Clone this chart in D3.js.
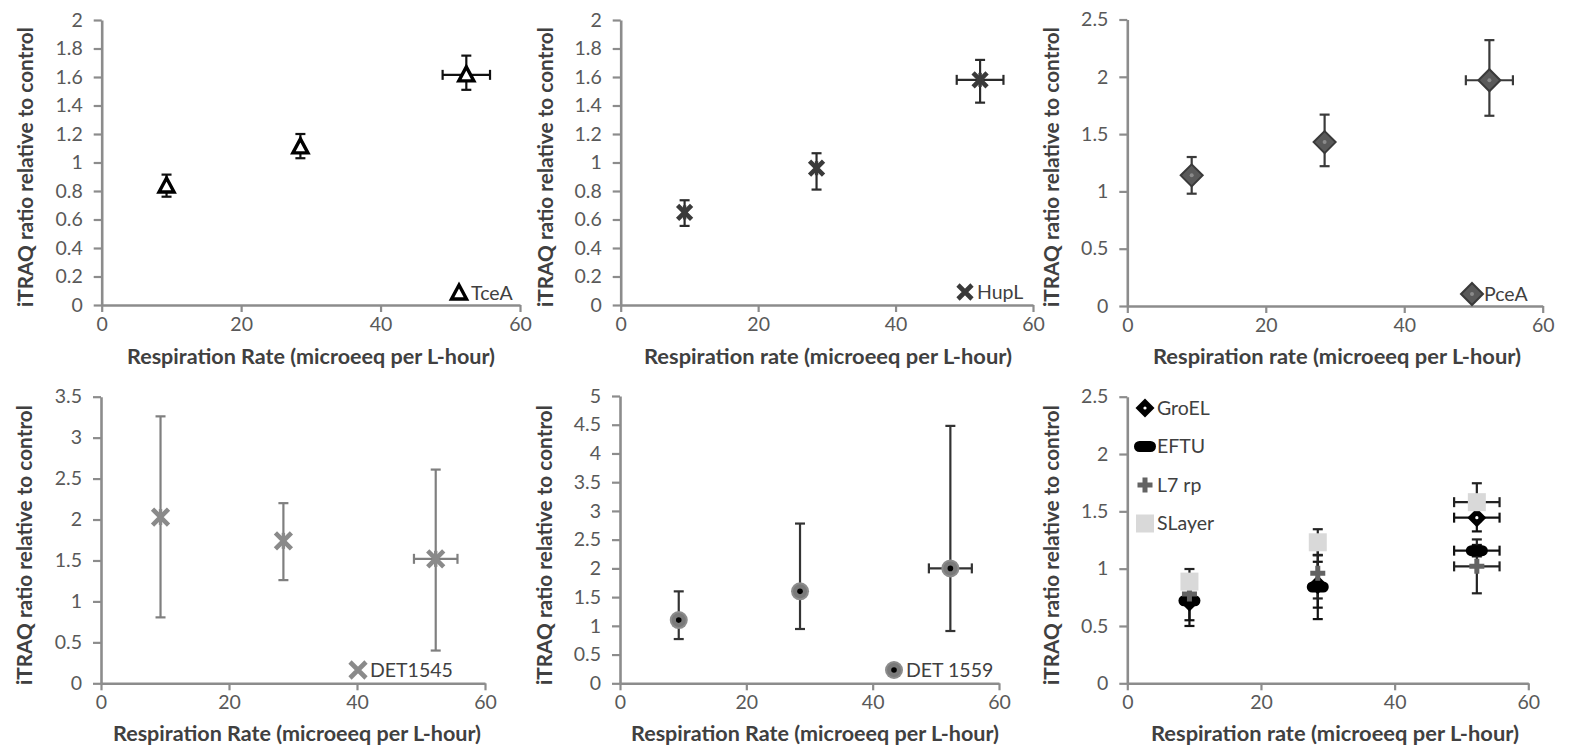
<!DOCTYPE html>
<html>
<head>
<meta charset="utf-8">
<script src="https://cdn.jsdelivr.net/npm/d3@7/dist/d3.min.js"></script>
<style>
  html, body { margin: 0; padding: 0; background: #ffffff; }
  svg { display: block; font-family: Lato, "Open Sans", "Liberation Sans", sans-serif; }
</style>
</head>
<body>
<svg id="chart" width="1570" height="749"></svg>
<script>
// ---------------- DATA ----------------
const respRate = [9.3, 28.5, 52.3];      // respiration rate (microeeq per L-hour)
const respErr  = [0, 0, 3.4];            // x error

const xTicks = [0, 20, 40, 60];
const yTicks2   = [0, 0.2, 0.4, 0.6, 0.8, 1, 1.2, 1.4, 1.6, 1.8, 2];
const yTicks2_5 = [0, 0.5, 1, 1.5, 2, 2.5];
const yTicks3_5 = [0, 0.5, 1, 1.5, 2, 2.5, 3, 3.5];
const yTicks5   = [0, 0.5, 1, 1.5, 2, 2.5, 3, 3.5, 4, 4.5, 5];

const tceA     = [0.835, 1.11, 1.615];
const tceAUp   = [0.08, 0.09, 0.135];
const tceADn   = [0.075, 0.08, 0.105];

const hupL     = [0.65, 0.96, 1.58];
const hupLUp   = [0.085, 0.105, 0.14];
const hupLDn   = [0.095, 0.15, 0.16];

const pceA     = [1.14, 1.43, 1.97];
const pceAUp   = [0.16, 0.24, 0.35];
const pceADn   = [0.16, 0.21, 0.31];

const det1545   = [2.03, 1.74, 1.52];
const det1545Up = [1.23, 0.46, 1.09];
const det1545Dn = [1.225, 0.48, 1.12];

const det1559   = [1.1, 1.6, 2.0];
const det1559Up = [0.5, 1.18, 2.48];
const det1559Dn = [0.33, 0.655, 1.09];

const groEL   = [0.71, 0.86, 1.445];
const groELEr = [0.16, 0.2, 0.12];
const eftu    = [0.72, 0.84, 1.157];
const eftuEr  = [0.22, 0.28, 0.05];
const l7rp    = [0.78, 0.96, 1.02];
const l7rpEr  = [0.05, 0.22, 0.235];
const sLayer  = [0.887, 1.23, 1.58];
const sLayerEr= [0.11, 0.114, 0.165];

const xTitleA = "Respiration Rate (microeeq per L-hour)";
const xTitleB = "Respiration rate (microeeq per L-hour)";
const yTitle  = "iTRAQ ratio relative to control";

// ---------------- MARKERS ----------------
function mk(name) {
  return function (g, legend) {
    switch (name) {
      case "triangle":
        g.append("path").attr("d", "M0,-8L7.5,6L-7.5,6Z")
          .attr("fill", "#fff").attr("stroke", "#000").attr("stroke-width", 3.4).attr("stroke-linejoin", "miter");
        break;
      case "xdark":
      case "xgray": {
        const c = name === "xdark" ? "#3a3a3a" : "#8a8a8a";
        const r = name === "xdark" ? 7 : 8;
        g.append("path").attr("d", `M${-r},${-r}L${r},${r}M${-r},${r}L${r},${-r}`)
          .attr("stroke", c).attr("stroke-width", 4.6).attr("fill", "none");
        if (!legend) g.append("path").attr("d", `M0,${-r}L0,${r}`).attr("stroke", c).attr("stroke-width", 3.4).attr("fill", "none");
        break;
      }
      case "diamond":
        g.append("path").attr("d", "M0,-11L11,0L0,11L-11,0Z")
          .attr("fill", "#5a5a5a").attr("stroke", "#3a3a3a").attr("stroke-width", 2);
        g.append("circle").attr("r", 2).attr("fill", "#8a8a8a");
        break;
      case "circle":
        g.append("circle").attr("r", 9).attr("fill", "#8c8c8c");
        g.append("circle").attr("r", 7).attr("fill", "#7a7a7a");
        g.append("circle").attr("r", 2.8).attr("fill", "#000");
        break;
      case "groel":
        g.append("path").attr("d", "M0,-9.5L9.5,0L0,9.5L-9.5,0Z").attr("fill", "#000");
        g.append("circle").attr("r", 1.6).attr("fill", "#fff");
        break;
      case "eftu":
        g.append("rect").attr("x", -11).attr("y", -5.5).attr("width", 22).attr("height", 11)
          .attr("rx", 5.5).attr("fill", "#000");
        break;
      case "plus":
        g.append("path").attr("d", "M-7.5,0L7.5,0M0,-7.5L0,7.5").attr("stroke", "#636363")
          .attr("stroke-width", 5).attr("fill", "none");
        break;
      case "square":
        g.append("rect").attr("x", -9).attr("y", -9).attr("width", 18).attr("height", 18)
          .attr("fill", "#d9d9d9");
        break;
    }
  };
}

// ---------------- PANELS ----------------
const panels = [
  { x0: 101.7, x1: 520,    yTop: 20,    yBot: 305,   yTicks: yTicks2,   xTitle: xTitleA, xTitleX: 311, xTitleY: 364, yTitleX: 26,  yTitleY: 167,
    series: [{ name: "TceA", y: tceA, up: tceAUp, dn: tceADn, marker: "triangle", ebar: "#111" }],
    legend: { x: 459, y: 293, dy: 0 } },
  { x0: 620.7, x1: 1033,   yTop: 20,    yBot: 305,   yTicks: yTicks2,   xTitle: xTitleB, xTitleX: 828, xTitleY: 364, yTitleX: 546, yTitleY: 167,
    series: [{ name: "HupL", y: hupL, up: hupLUp, dn: hupLDn, marker: "xdark", ebar: "#2b2b2b" }],
    legend: { x: 965, y: 292, dy: 0 } },
  { x0: 1127.3, x1: 1542.7, yTop: 19.5, yBot: 306,   yTicks: yTicks2_5, xTitle: xTitleB, xTitleX: 1337, xTitleY: 364, yTitleX: 1052, yTitleY: 167,
    series: [{ name: "PceA", y: pceA, up: pceAUp, dn: pceADn, marker: "diamond", ebar: "#3a3a3a" }],
    legend: { x: 1472, y: 294, dy: 0 } },
  { x0: 101,   x1: 485,    yTop: 396.7, yBot: 683.3, yTicks: yTicks3_5, xTitle: xTitleA, xTitleX: 297, xTitleY: 741, yTitleX: 25,  yTitleY: 545,
    series: [{ name: "DET1545", y: det1545, up: det1545Up, dn: det1545Dn, marker: "xgray", ebar: "#7f7f7f" }],
    legend: { x: 358, y: 670, dy: 0 } },
  { x0: 620,   x1: 999,    yTop: 396,   yBot: 683.3, yTicks: yTicks5,   xTitle: xTitleA, xTitleX: 815, xTitleY: 741, yTitleX: 545, yTitleY: 545,
    series: [{ name: "DET 1559", y: det1559, up: det1559Up, dn: det1559Dn, marker: "circle", ebar: "#333" }],
    legend: { x: 894, y: 670, dy: 0 } },
  { x0: 1127.3, x1: 1528.3, yTop: 396.7, yBot: 683.3, yTicks: yTicks2_5, xTitle: xTitleB, xTitleX: 1335, xTitleY: 741, yTitleX: 1052, yTitleY: 545,
    series: [
      { name: "GroEL",  y: groEL,  up: groELEr,  dn: groELEr,  marker: "groel",  ebar: "#111" },
      { name: "EFTU",   y: eftu,   up: eftuEr,   dn: eftuEr,   marker: "eftu",   ebar: "#111" },
      { name: "L7 rp",  y: l7rp,   up: l7rpEr,   dn: l7rpEr,   marker: "plus",   ebar: "#222" },
      { name: "SLayer", y: sLayer, up: sLayerEr, dn: sLayerEr, marker: "square", ebar: "#222" }
    ],
    legend: { x: 1145, y: 408, dy: 38.5 } }
];

const svg = d3.select("#chart");
svg.append("rect").attr("width", 1570).attr("height", 749).attr("fill", "#fff");

const axisColor = "#8c8c8c";
const fmt = d => String(+d.toFixed(1));

panels.forEach(p => {
  const x = d3.scaleLinear().domain([0, 60]).range([p.x0, p.x1]);
  const yMax = p.yTicks[p.yTicks.length - 1];
  const y = d3.scaleLinear().domain([0, yMax]).range([p.yBot, p.yTop]);
  const g = svg.append("g");

  // axes
  const ya = g.append("g").attr("transform", `translate(${p.x0},0)`)
    .call(d3.axisLeft(y).tickValues(p.yTicks).tickFormat(fmt).tickSize(8).tickSizeOuter(0).tickPadding(11));
  const xa = g.append("g").attr("transform", `translate(0,${p.yBot})`)
    .call(d3.axisBottom(x).tickValues(xTicks).tickFormat(d3.format("d")).tickSize(7).tickSizeOuter(0).tickPadding(5));
  [ya, xa].forEach(a => {
    a.select(".domain").attr("stroke", axisColor).attr("stroke-width", 2.6);
    a.selectAll(".tick line").attr("stroke", axisColor).attr("stroke-width", 2.2);
    a.selectAll(".tick text").attr("fill", "#595959").attr("font-size", 19.5)
      .attr("font-family", "Lato, 'Open Sans', sans-serif");
  });

  // titles
  g.append("text").attr("x", p.xTitleX).attr("y", p.xTitleY).attr("text-anchor", "middle")
    .attr("font-size", 20).attr("font-weight", "bold").attr("fill", "#404040")
    .attr("textLength", 368).attr("lengthAdjust", "spacingAndGlyphs").text(p.xTitle);
  g.append("text").attr("transform", `translate(${p.yTitleX},${p.yTitleY}) rotate(-90)`)
    .attr("text-anchor", "middle").attr("dy", "0.35em")
    .attr("font-size", 20).attr("font-weight", "bold").attr("fill", "#404040")
    .attr("textLength", 280).attr("lengthAdjust", "spacingAndGlyphs").text(yTitle);

  // error bars
  p.series.forEach(s => {
    const eb = g.append("g").attr("stroke", s.ebar).attr("stroke-width", 2.2).attr("fill", "none");
    respRate.forEach((rx, i) => {
      const cx = x(rx), cy = y(s.y[i]);
      const yt = y(s.y[i] + s.up[i]), yb = y(s.y[i] - s.dn[i]);
      eb.append("line").attr("x1", cx).attr("x2", cx).attr("y1", yt).attr("y2", yb);
      eb.append("line").attr("x1", cx - 5).attr("x2", cx + 5).attr("y1", yt).attr("y2", yt);
      eb.append("line").attr("x1", cx - 5).attr("x2", cx + 5).attr("y1", yb).attr("y2", yb);
      if (respErr[i] > 0) {
        const xl = x(rx - respErr[i]), xr = x(rx + respErr[i]);
        eb.append("line").attr("x1", xl).attr("x2", xr).attr("y1", cy).attr("y2", cy);
        eb.append("line").attr("x1", xl).attr("x2", xl).attr("y1", cy - 5).attr("y2", cy + 5);
        eb.append("line").attr("x1", xr).attr("x2", xr).attr("y1", cy - 5).attr("y2", cy + 5);
      }
    });
  });

  // markers
  p.series.forEach(s => {
    const draw = mk(s.marker);
    respRate.forEach((rx, i) => {
      const mg = g.append("g").attr("transform", `translate(${x(rx)},${y(s.y[i])})`);
      draw(mg, false);
    });
  });

  // legend
  p.series.forEach((s, k) => {
    const ly = p.legend.y + k * p.legend.dy;
    const lg = g.append("g").attr("transform", `translate(${p.legend.x},${ly})`);
    mk(s.marker)(lg, true);
    g.append("text").attr("x", p.legend.x + 12).attr("y", ly).attr("dy", "0.35em")
      .attr("font-size", 19.5).attr("fill", "#404040").text(s.name);
  });
});
</script>
</body>
</html>
